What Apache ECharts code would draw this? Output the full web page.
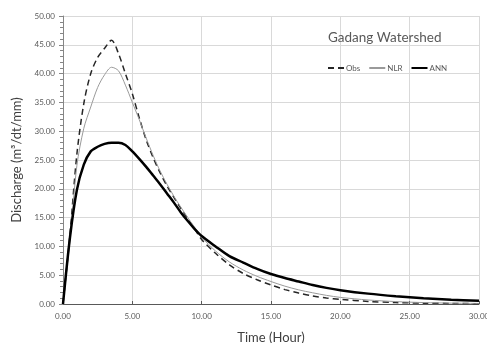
<!DOCTYPE html>
<html>
<head>
<meta charset="utf-8">
<script src="https://cdn.jsdelivr.net/npm/echarts@6/dist/echarts.min.js"></script>
<style>html,body{margin:0;padding:0;background:#fff;}#c{width:487px;height:343px;}</style>
</head>
<body>
<div id="c"></div>
<script>
const time = [0,0.5,1,1.5,2,2.5,3,3.5,4,4.5,5,5.5,6,6.5,7,7.5,8,8.5,9,9.5,10,11,12,13,14,15,16,17,18,19,20,22,24,26,28,30];
const obs = [0,12,26,34.8,40,42.8,44.4,45.8,43.5,40,36.5,32.3,28.5,25.4,22.8,20.5,18.5,16.6,14.8,13,11.2,8.8,6.8,5.3,4.2,3.3,2.5,1.9,1.4,1.05,0.8,0.45,0.25,0.15,0.1,0.05];
const nlr = [0,11,24,30.5,34.2,37.6,39.8,41.1,40.5,38,35,32,28.8,25.8,23.1,20.8,18.7,16.8,15,13.3,11.6,9.2,7.3,5.9,4.8,3.9,3.1,2.45,1.95,1.5,1.15,0.7,0.42,0.25,0.15,0.1];
const ann = [0,11.5,19.8,24.2,26.5,27.3,27.8,28.0,28.0,27.6,26.5,25.2,23.8,22.3,20.8,19.2,17.6,15.9,14.4,13.0,11.8,10.0,8.3,7.2,6.1,5.2,4.5,3.9,3.3,2.8,2.4,1.8,1.35,1.0,0.75,0.55];
const seriesNames = ['Obs','NLR','ANN'];
const titleText = 'Gadang Watershed';
const xName = 'Time (Hour)';
const yName = 'Discharge (m\u00B3/dt/mm)';

const pairs = arr => time.map((t,i)=>[t,arr[i]]);
const font = 'Lato, "Open Sans", sans-serif';
const chart = echarts.init(document.getElementById('c'));
chart.setOption({
  animation:false,
  backgroundColor:'#fff',
  title:{text:titleText,left:323,top:26,textStyle:{fontFamily:font,fontSize:13.5,fontWeight:'normal',color:'#595959'}},
  legend:{data:seriesNames,left:322,top:59,itemWidth:16,itemHeight:8,itemGap:8,
    itemStyle:{opacity:0},
    textStyle:{fontFamily:font,fontSize:8,color:'#595959',padding:[0,0,0,-3]}},
  grid:{left:63,right:8,top:16,bottom:39,outerBoundsMode:'none',containLabel:false},
  xAxis:{type:'value',min:0,max:30,interval:5,
    name:xName,nameLocation:'middle',nameGap:27,
    nameTextStyle:{fontFamily:font,fontSize:13,color:'#404040'},
    axisLine:{lineStyle:{color:'#595959',width:1}},
    axisTick:{show:true,inside:true,length:3,lineStyle:{color:'#595959'}},
    axisLabel:{fontFamily:font,fontSize:8,color:'#595959',formatter:v=>v.toFixed(2),margin:8},
    splitLine:{lineStyle:{color:'#d9d9d9'}}},
  yAxis:{type:'value',min:0,max:50,interval:5,
    name:yName,nameLocation:'middle',nameGap:27,
    nameTextStyle:{fontFamily:font,fontSize:13,color:'#404040'},
    axisLine:{show:true,lineStyle:{color:'#868686',width:1}},
    axisTick:{show:true,length:4,lineStyle:{color:'#868686'}},
    minorTick:{show:true,splitNumber:5,length:3,lineStyle:{color:'#868686'}},
    axisLabel:{fontFamily:font,fontSize:8,color:'#595959',formatter:v=>v.toFixed(2),margin:8},
    splitLine:{lineStyle:{color:'#d9d9d9'}}},
  series:[
    {name:'Obs',type:'line',data:pairs(obs),smooth:0.3,symbol:'none',
      lineStyle:{color:'#262626',width:1.5,type:[6,4]},itemStyle:{color:'#262626'}},
    {name:'NLR',type:'line',data:pairs(nlr),smooth:0.3,symbol:'none',
      lineStyle:{color:'#9a9a9a',width:1},itemStyle:{color:'#bfbfbf'}},
    {name:'ANN',type:'line',data:pairs(ann),smooth:0.3,symbol:'none',
      lineStyle:{color:'#000',width:2.5},itemStyle:{color:'#000'}}
  ]
});
</script>
</body>
</html>
